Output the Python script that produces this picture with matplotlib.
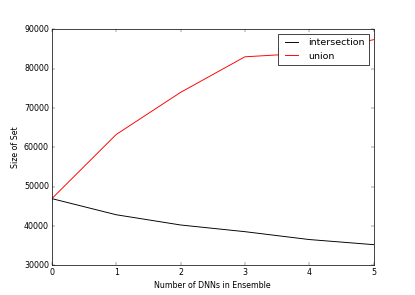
import numpy as np
import matplotlib
matplotlib.use('Agg')
from matplotlib import pyplot as plt

# Number of DNNs in the ensemble
n_dnns = [0, 1, 2, 3, 4, 5]
# Size of the intersection / union sets
intersection = [47000, 42900, 40300, 38600, 36600, 35300]
union = [47000, 63300, 74000, 83050, 84000, 87400]

plt.style.use('classic')
plt.rcParams['font.size'] = 11

fig, ax = plt.subplots(figsize=(8, 5.6875), dpi=51.875)

ax.plot(n_dnns, intersection, color='k', lw=1.3, label='intersection')
ax.plot(n_dnns, union, color='r', lw=1.3, label='union')

ax.set_xlim(0, 5)
ax.set_ylim(30000, 90000)
ax.set_xlabel('Number of DNNs in Ensemble')
ax.set_ylabel('Size of Set')
ax.legend(loc='upper right')

plt.savefig('out.png', dpi=51.875)
